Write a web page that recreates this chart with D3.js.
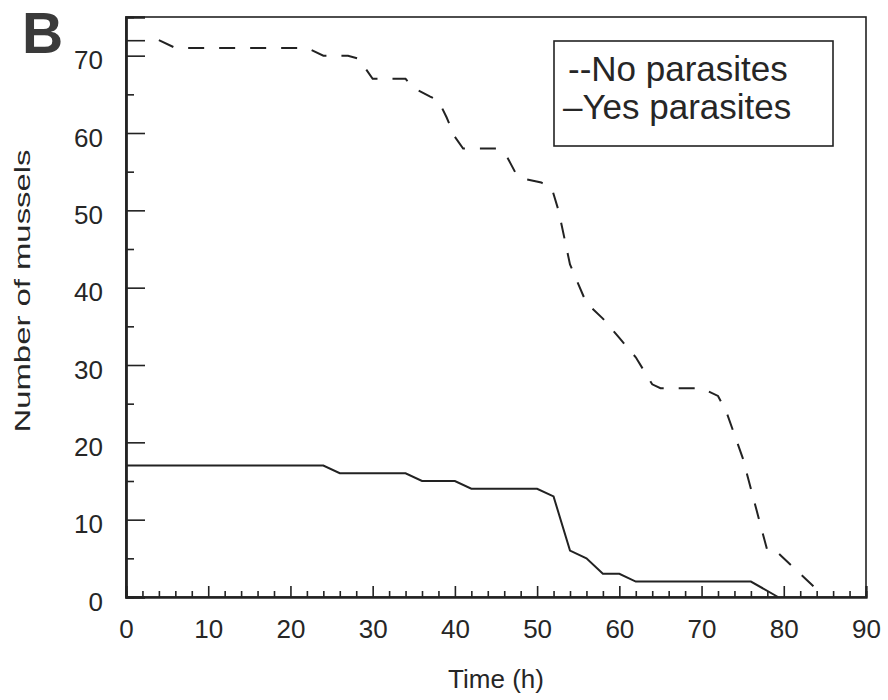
<!DOCTYPE html>
<html>
<head>
<meta charset="utf-8">
<script src="https://cdnjs.cloudflare.com/ajax/libs/d3/7.8.5/d3.min.js"></script>
<style>
  body { margin: 0; background: #fff; }
  svg text { font-family: "Liberation Sans", Arial, sans-serif; fill: #262626; }
</style>
</head>
<body>
<div id="chart"></div>
<script>
// Time (h) and counts
const timeNo = [4, 6, 22, 24, 27, 28.3, 30, 34, 35, 37, 38, 39, 40, 41, 45, 46.3, 47.5, 48.7, 50.5, 51.8, 52.6, 54, 56, 58, 60, 62, 64, 65, 70, 72, 73, 74, 75, 76, 77, 78, 79, 84, 84];
const countNo = [72, 71, 71, 70, 70, 69.6, 67, 67, 65.8, 64.7, 64.2, 62, 59.5, 58, 58, 57, 54.6, 54, 53.6, 52.8, 50, 43, 38, 36, 33.5, 31, 27.5, 27, 27, 26, 24, 21, 18, 14, 10, 6, 6, 1, 0];

const timeYes = [0, 24, 26, 34, 36, 40, 42, 50, 52, 54, 56, 58, 60, 62, 76, 79.3];
const countYes = [17, 17, 16, 16, 15, 15, 14, 14, 13, 6, 5, 3, 3, 2, 2, 0];

const xMajorTicks = [0, 10, 20, 30, 40, 50, 60, 70, 80, 90];
const xMinorTicks = d3.range(2, 90, 2).filter(d => d % 10 !== 0);
const yMajorTicks = [0, 10, 20, 30, 40, 50, 60, 70];
const yMinorTicks = [5, 15, 25, 35, 45, 55, 65];
const yExtraTicks = [72];

const width = 888, height = 700;
const plotLeft = 126, plotRight = 866, plotTop = 17, plotBottom = 597;

const svg = d3.select("#chart").append("svg")
    .attr("width", width)
    .attr("height", height);

const x = d3.scaleLinear().domain([0, 90]).range([plotLeft, plotRight]);
const y = d3.scaleLinear().domain([0, 75]).range([plotBottom, plotTop]);

// frame
svg.append("rect")
    .attr("x", plotLeft).attr("y", plotTop)
    .attr("width", plotRight - plotLeft).attr("height", plotBottom - plotTop)
    .attr("fill", "none").attr("stroke", "#222").attr("stroke-width", 1.6);

// y axis: major, minor and the odd tick at 72
const yAxis = svg.append("g")
    .attr("transform", `translate(${plotLeft},0)`)
    .call(d3.axisLeft(y).tickValues(yMajorTicks).tickSize(-19).tickPadding(23));
yAxis.selectAll("text").attr("dy", "0.5em").style("font-size", "26px");

svg.append("g")
    .attr("transform", `translate(${plotLeft},0)`)
    .call(d3.axisLeft(y).tickValues(yMinorTicks).tickSize(-8).tickFormat(""));
svg.append("g")
    .attr("transform", `translate(${plotLeft},0)`)
    .call(d3.axisLeft(y).tickValues(yExtraTicks).tickSize(-19).tickFormat(""));

// x axis
const xAxis = svg.append("g")
    .attr("transform", `translate(0,${plotBottom})`)
    .call(d3.axisBottom(x).tickValues(xMajorTicks).tickSize(-11).tickPadding(23));
xAxis.selectAll("text").style("font-size", "26px");

svg.append("g")
    .attr("transform", `translate(0,${plotBottom})`)
    .call(d3.axisBottom(x).tickValues(xMinorTicks).tickSize(-6).tickFormat(""));

svg.selectAll(".domain").attr("stroke", "#222").attr("stroke-width", 2);
svg.selectAll(".tick line").attr("stroke", "#222").attr("stroke-width", 1.6);

// lines
const line = d3.line().x(d => x(d[0])).y(d => y(d[1]));

svg.append("path")
    .datum(d3.zip(timeNo, countNo))
    .attr("d", line)
    .attr("fill", "none").attr("stroke", "#222")
    .attr("stroke-width", 2)
    .attr("stroke-dasharray", "16,15");

svg.append("path")
    .datum(d3.zip(timeYes, countYes))
    .attr("d", line)
    .attr("fill", "none").attr("stroke", "#222")
    .attr("stroke-width", 2);

// axis titles
svg.append("text")
    .attr("x", (plotLeft + plotRight) / 2)
    .attr("y", 688)
    .attr("text-anchor", "middle")
    .style("font-size", "26px")
    .text("Time (h)");

svg.append("text")
    .attr("transform", "translate(30,291) rotate(-90)")
    .attr("text-anchor", "middle")
    .attr("textLength", 283)
    .attr("lengthAdjust", "spacingAndGlyphs")
    .style("font-size", "22px")
    .text("Number of mussels");

// panel letter
svg.append("text")
    .attr("x", 22).attr("y", 53)
    .style("font-size", "57px")
    .style("font-weight", "bold")
    .style("fill", "#3a3a3a")
    .text("B");

// legend
svg.append("rect")
    .attr("x", 554).attr("y", 41)
    .attr("width", 279).attr("height", 105)
    .attr("fill", "#fff").attr("stroke", "#222").attr("stroke-width", 1.6);

svg.append("text")
    .attr("x", 568).attr("y", 81)
    .style("font-size", "35px")
    .text("--No parasites");

svg.append("text")
    .attr("x", 563).attr("y", 119)
    .style("font-size", "35px")
    .text("\u2013Yes parasites");
</script>
</body>
</html>
